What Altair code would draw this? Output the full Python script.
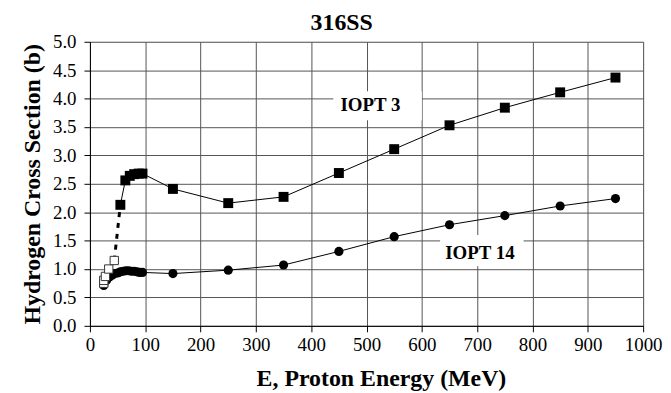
import altair as alt
import pandas as pd

# IOPT 3 (filled squares)
sq_E = [55, 64, 72, 80, 88, 95, 150, 250, 350, 450, 550, 650, 750, 850, 950]
sq_v = [2.13, 2.56, 2.64, 2.67, 2.68, 2.68, 2.41, 2.16, 2.27, 2.69, 3.11, 3.53, 3.84, 4.11, 4.37]
# IOPT 3 low-energy (open squares)
open_E = [25, 25, 28, 34, 44]
open_v = [0.75, 0.80, 0.87, 1.00, 1.15]
# IOPT 14 (filled circles)
circ_E = [25, 30, 35, 40, 45, 50, 55, 60, 65, 70, 75, 80, 85, 90, 95,
          150, 250, 350, 450, 550, 650, 750, 850, 950]
circ_v = [0.71, 0.80, 0.86, 0.89, 0.92, 0.93, 0.95, 0.96, 0.97, 0.97, 0.96, 0.96, 0.95, 0.94, 0.94,
          0.92, 0.98, 1.07, 1.31, 1.57, 1.78, 1.94, 2.11, 2.24]
# dashed connector (last open square -> first filled square)
dash_E = [44, 55]
dash_v = [1.15, 2.13]
# curve labels
labels = ["IOPT 3", "IOPT 14"]
label_E = [507, 705]
label_v = [3.88, 1.28]
box_E = [440, 633]
box_E2 = [600, 784]
box_v = [3.62, 1.05]
box_v2 = [4.13, 1.60]

x_ticks = list(range(0, 1001, 100))
y_ticks = [i * 0.5 for i in range(11)]

FONT = "Liberation Serif, DejaVu Serif, serif"

sq = pd.DataFrame({"E": sq_E, "v": sq_v})
op = pd.DataFrame({"E": open_E, "v": open_v})
ci = pd.DataFrame({"E": circ_E, "v": circ_v})
da = pd.DataFrame({"E": dash_E, "v": dash_v})
lab = pd.DataFrame({"E": label_E, "v": label_v, "t": labels})
box = pd.DataFrame({"E": box_E, "E2": box_E2, "v": box_v, "v2": box_v2})

x_enc = alt.X("E:Q", scale=alt.Scale(domain=[0, 1000], nice=False, zero=False),
              axis=alt.Axis(values=x_ticks, format="d", title="E, Proton Energy (MeV)", grid=True,
                            gridColor="#555555", gridWidth=1, domainColor="black", tickColor="black",
                            tickSize=6, labelFont=FONT, labelFontSize=19, labelColor="black",
                            labelPadding=4, labelFlush=False, labelOverlap=False,
                            titleFont=FONT, titleFontSize=24, titleFontWeight="bold", titleColor="black",
                            titleX=293, titleY=60, titleBaseline="alphabetic", titleAlign="center"))
y_enc = alt.Y("v:Q", scale=alt.Scale(domain=[0, 5], nice=False, zero=False),
              axis=alt.Axis(values=y_ticks, format=".1f", title="Hydrogen Cross Section (b)", grid=True,
                            gridColor="#555555", gridWidth=1, domainColor="black", tickColor="black",
                            tickSize=6, labelFont=FONT, labelFontSize=19, labelColor="black",
                            labelPadding=8, labelFlush=False, labelOverlap=False,
                            titleFont=FONT, titleFontSize=24, titleFontWeight="bold", titleColor="black",
                            titleX=-58, titleY=143, titleAngle=-90, titleBaseline="middle",
                            titleAlign="center"))

rects = alt.Chart(box).mark_rect(color="white").encode(x=x_enc, x2="E2:Q", y=y_enc, y2="v2:Q")
sq_line = alt.Chart(sq).mark_line(color="black", strokeWidth=1).encode(x=x_enc, y=y_enc)
ci_line = alt.Chart(ci).mark_line(color="black", strokeWidth=1).encode(x=x_enc, y=y_enc)
dash = alt.Chart(da).mark_line(color="black", strokeWidth=3, strokeDash=[5, 6]).encode(x=x_enc, y=y_enc)
sq_pts = alt.Chart(sq).mark_point(shape="square", filled=True, color="black", size=100, opacity=1).encode(x=x_enc, y=y_enc)
ci_pts = alt.Chart(ci).mark_point(shape="circle", filled=True, color="black", size=85, opacity=1).encode(x=x_enc, y=y_enc)
op_pts = alt.Chart(op).mark_point(shape="square", filled=True, fill="white", stroke="#333333",
                                  strokeWidth=1, size=70, opacity=1).encode(x=x_enc, y=y_enc)
texts = alt.Chart(lab).mark_text(font=FONT, fontSize=19, fontWeight="bold", color="black",
                                 align="center", baseline="middle").encode(x=x_enc, y=y_enc, text="t:N")

chart = alt.layer(rects, sq_line, ci_line, dash, sq_pts, ci_pts, op_pts, texts).properties(
    width=557, height=286,
    title=alt.TitleParams("316SS", font=FONT, fontSize=24, fontWeight="bold", color="black",
                          anchor="middle", dx=-25, dy=32, offset=11, baseline="alphabetic"),
    autosize=alt.AutoSizeParams(type="none"),
    padding={"left": 82.5, "top": 32.7, "right": 20, "bottom": 66},
).configure_view(strokeWidth=0).configure(background="white")

chart.save("out.html", embed_options={"renderer": "svg", "actions": False})
